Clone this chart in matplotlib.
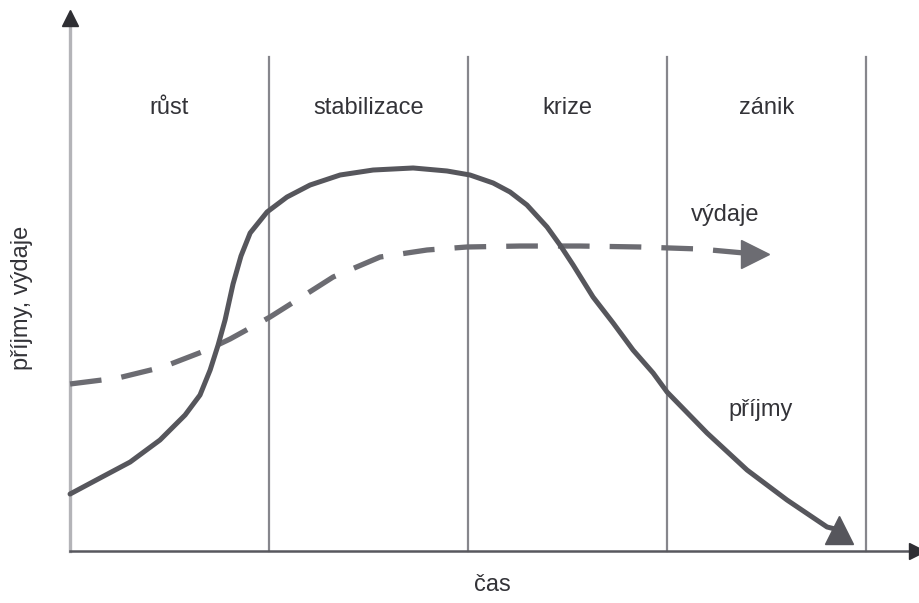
import matplotlib
matplotlib.use("Agg")
import matplotlib.pyplot as plt

plt.rcParams['font.family'] = ['Liberation Sans', 'DejaVu Sans']

# faze zivotniho cyklu
faze = ["růst", "stabilizace", "krize", "zánik"]
hranice = [1, 2, 3, 4]

# prijmy (plna cara)
prijmy_x = [0.0, 0.151, 0.302, 0.452, 0.578, 0.653, 0.704, 0.744, 0.779, 0.819,
            0.859, 0.905, 0.990, 1.090, 1.206, 1.357, 1.523, 1.724, 1.894, 2.010,
            2.126, 2.211, 2.296, 2.397, 2.462, 2.528, 2.628, 2.729, 2.829, 2.930,
            3.000, 3.201, 3.402, 3.603, 3.804, 3.864]
prijmy_y = [1.063, 1.362, 1.660, 2.071, 2.537, 2.910, 3.377, 3.843, 4.310, 4.981,
            5.504, 5.933, 6.325, 6.604, 6.828, 7.015, 7.108, 7.146, 7.090, 7.015,
            6.866, 6.698, 6.455, 6.045, 5.709, 5.336, 4.739, 4.254, 3.750, 3.321,
            2.966, 2.201, 1.511, 0.951, 0.448, 0.392]

# vydaje (carkovana cara)
vydaje_x = [0.0, 0.241, 0.467, 0.688, 0.804, 1.005, 1.156, 1.322, 1.558, 1.794,
            1.995, 2.261, 2.563, 2.864, 3.166, 3.442]
vydaje_y = [3.116, 3.228, 3.433, 3.750, 3.955, 4.366, 4.720, 5.112, 5.485, 5.616,
            5.672, 5.690, 5.690, 5.672, 5.634, 5.541]

fig = plt.figure(figsize=(9.2, 6.03), dpi=100)
ax = fig.add_axes([0, 0, 1, 1])
ax.set_xlim(-0.352, 4.271)
ax.set_ylim(-0.970, 10.28)
ax.axis('off')

text_c = "#333338"

# svisle hranice fazi
for h in hranice:
    ax.plot([h, h], [0, 9.22], color="#86868c", lw=1.6, zorder=1)

# osy
ax.plot([0, 0], [0, 9.9], color="#b4b4b8", lw=2.4, zorder=2)
ax.plot([0], [9.95], marker='^', ms=11, color="#2e2e33", zorder=3)
ax.plot([0, 4.3], [0, 0], color="#58585e", lw=1.8, zorder=2)
ax.plot([4.255], [0], marker='>', ms=11, color="#2e2e33", zorder=3, clip_on=False)

# krivky
ax.plot(vydaje_x, vydaje_y, color="#6c6c72", lw=3.8, dashes=(6.0, 3.8),
        dash_capstyle='butt', zorder=4)
ax.plot(vydaje_x[-1:], vydaje_y[-1:], marker='>', ms=20, color="#6c6c72", zorder=5)
ax.plot(prijmy_x, prijmy_y, color="#56565c", lw=3.6, solid_joinstyle='round',
        solid_capstyle='round', zorder=4)
ax.plot(prijmy_x[-1:], prijmy_y[-1:], marker='^', ms=20, color="#56565c", zorder=5)

# popisky fazi
for i, f in enumerate(faze):
    ax.text(i + 0.5, 8.26, f, ha='center', va='center', fontsize=17, color=text_c)

ax.text(3.29, 6.27, "výdaje", ha='center', va='center', fontsize=17, color=text_c)
ax.text(3.47, 2.63, "příjmy", ha='center', va='center', fontsize=17, color=text_c)
ax.text(2.12, -0.63, "čas", ha='center', va='center', fontsize=17, color=text_c)
ax.text(-0.241, 4.72, "příjmy, výdaje", ha='center', va='center', rotation=90,
        fontsize=17, color=text_c)

fig.savefig("out.png", dpi=100)
